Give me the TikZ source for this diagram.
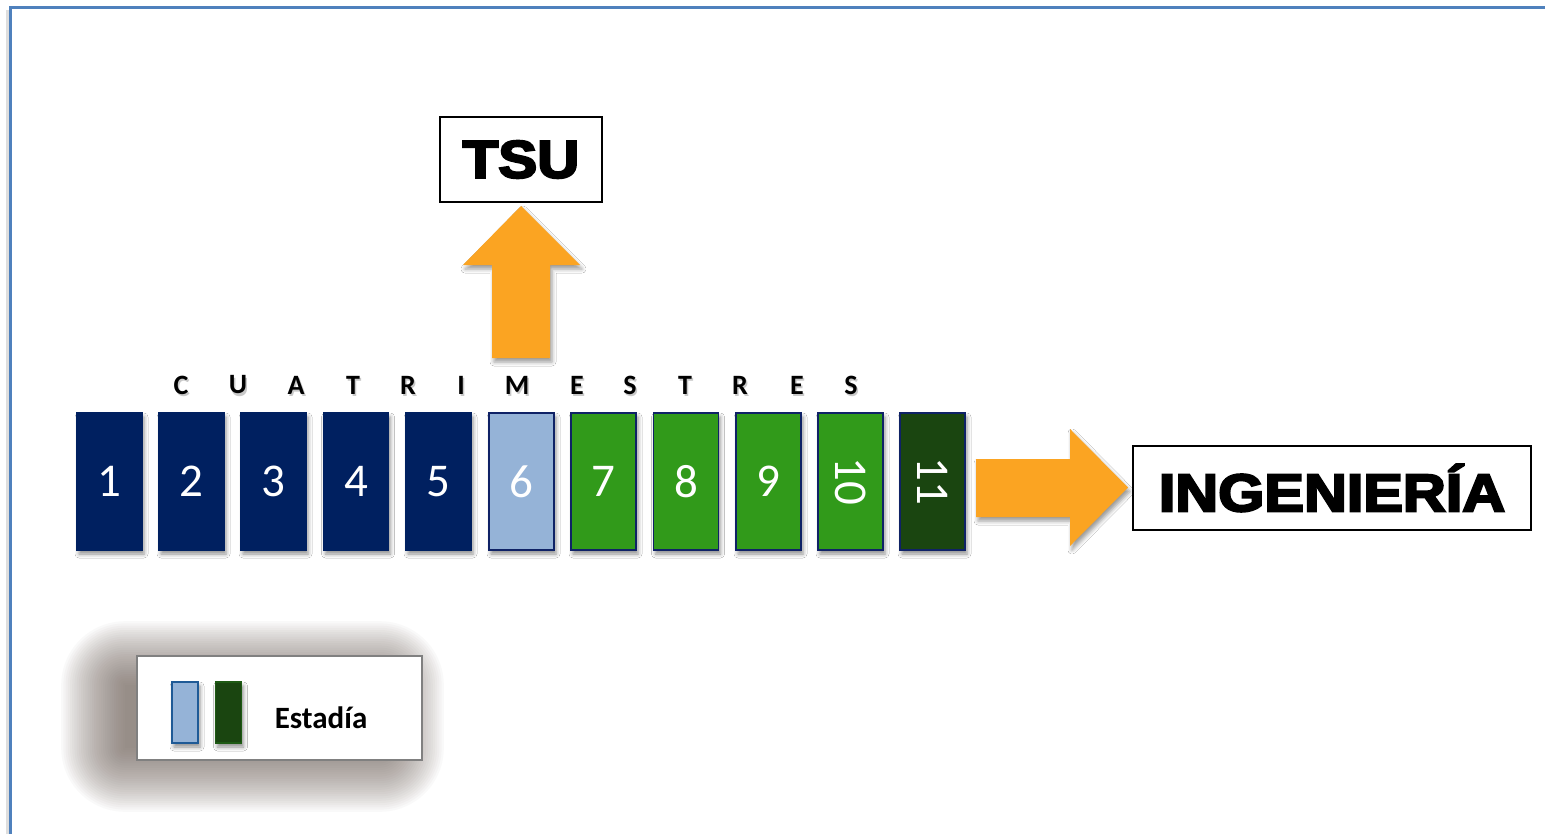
\documentclass[tikz,border=0pt]{standalone}
\usepackage{fontspec}
\usepackage{graphicx}
\setmainfont{Carlito}
\newfontfamily\blk{Liberation Sans}[UprightFont={* Bold}, FakeBold=4]
\usetikzlibrary{shadows.blur}
\definecolor{navy}{HTML}{002060}
\definecolor{lblue}{HTML}{95B3D7}
\definecolor{grn}{HTML}{319A1A}
\definecolor{dgrn}{HTML}{1A4510}
\definecolor{edge}{HTML}{0F2266}
\definecolor{orng}{HTML}{FBA422}
\definecolor{frameblue}{HTML}{4F81BD}
\definecolor{shadowbrown}{HTML}{6E6058}
\tikzset{
  sem/.style={rectangle, minimum width=32.5pt, minimum height=68.5pt, inner sep=0pt,
    line width=0.9pt, text=white, font=\fontsize{23.5}{26}\selectfont,
    blur shadow={shadow xshift=1pt, shadow yshift=-2pt, shadow blur radius=2pt, shadow opacity=45}},
  letter/.style={font=\bfseries\fontsize{14}{16}\selectfont, inner sep=0pt},
  blockarrow/.style={fill=orng, draw=none,
    blur shadow={shadow xshift=1pt, shadow yshift=-2pt, shadow blur radius=2pt, shadow opacity=40}},
  titlebox/.style={draw=black, line width=1pt, fill=white, inner sep=0pt},
  legrect/.style={rectangle, minimum width=13pt, minimum height=30.5pt, inner sep=0pt, line width=0.9pt,
    blur shadow={shadow xshift=1pt, shadow yshift=-2pt, shadow blur radius=2pt, shadow opacity=45}}
}
\begin{document}
\begin{tikzpicture}[x=0.5pt,y=-0.5pt]
\useasboundingbox (0,0) rectangle (1545,834);
\fill[white] (0,0) rectangle (1545,834);
% frame with faint shadow
\draw[black!25, line width=1.5pt, opacity=0.5] (7.5,834) -- (7.5,10);
\draw[frameblue, line width=1.5pt] (10,834) -- (10,8) -- (1545,8);

% semesters
\node[sem, fill=navy, draw=navy] (s1) at (109.5,481.5) {1};
\node[sem, fill=navy, draw=navy] (s2) at (191.5,481.5) {2};
\node[sem, fill=navy, draw=navy] (s3) at (273.5,481.5) {3};
\node[sem, fill=navy, draw=navy] (s4) at (356,481.5) {4};
\node[sem, fill=navy, draw=navy] (s5) at (438.5,481.5) {5};
\node[sem, fill=lblue, draw=edge] (s6) at (521.5,481.5) {6};
\node[sem, fill=grn, draw=edge] (s7) at (603.5,481.5) {7};
\node[sem, fill=grn, draw=edge] (s8) at (686,481.5) {8};
\node[sem, fill=grn, draw=edge] (s9) at (768.5,481.5) {9};
\node[sem, fill=grn, draw=edge] (s10) at (850.5,481.5) {\rotatebox{-90}{10}};
\node[sem, fill=dgrn, draw=edge] (s11) at (932.5,481.5) {\rotatebox{-90}{11}};

% CUATRIMESTRES
\foreach \ch/\xx [count=\i] in {C/181,U/238,A/296,T/353,R/408,I/461,M/517,E/577,S/630,T/685,R/740,E/797,S/851}{
  \node[letter, text=black!35, opacity=0.6] at (\xx+1.5,387.5) {\ch};
  \node[letter] (l\i) at (\xx,385) {\ch};
}

% up arrow to TSU
\path[blockarrow] (492,358) -- (492,265) -- (463,265) -- (521,206) -- (580,265) -- (550,265) -- (550,358) -- cycle;
\node[titlebox, minimum width=81pt, minimum height=42.5pt] (tsu) at (521,159.5)
  {\scalebox{1.1}[1]{\blk\fontsize{26.5}{30}\selectfont TSU}};

% right arrow to INGENIERIA
\path[blockarrow] (976,459) -- (1070,459) -- (1070,429) -- (1128,487.5) -- (1070,546) -- (1070,517) -- (976,517) -- cycle;
\node[titlebox, minimum width=199pt, minimum height=42pt] (ing) at (1332,488)
  {\scalebox{1.12}[1]{\blk\fontsize{26.5}{30}\selectfont INGENIERÍA}};

% legend shadow (soft, built from layers)
\foreach \k in {0,...,29}{
  \fill[shadowbrown, opacity=0.035, rounded corners=\k*1.1pt]
    (125-2.2*\k,685-2.2*\k) rectangle (380+2.2*\k,748+2.2*\k);
}
% legend
\node[draw=black!50, line width=1pt, fill=white, minimum width=142.5pt, minimum height=52pt, inner sep=0pt] (leg) at (279.5,708) {};
\node[legrect, fill=lblue, draw={rgb,255:red,31;green,90;blue,150}] (lg1) at (185,712.5) {};
\node[legrect, fill=dgrn, draw={rgb,255:red,30;green,90;blue,20}] (lg2) at (228.5,712.5) {};
\node[font=\bfseries\fontsize{15.5}{18}\selectfont, inner sep=0pt] (est) at (321,718) {Estadía};
\end{tikzpicture}
\end{document}
